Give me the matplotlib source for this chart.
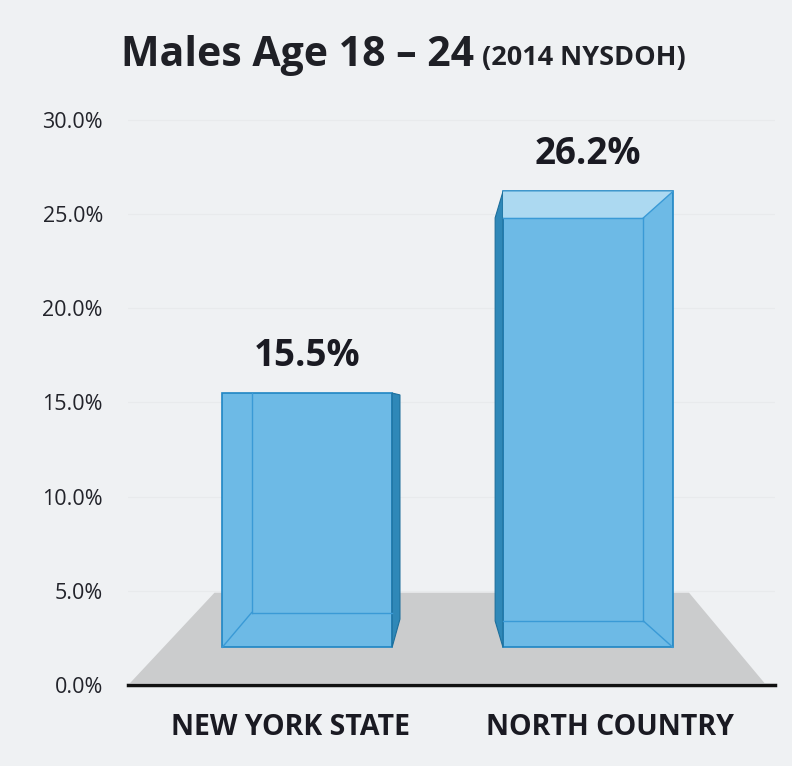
import matplotlib.pyplot as plt
from matplotlib.patches import Polygon
from matplotlib.transforms import ScaledTranslation

# datos
categorias = ['NEW YORK STATE', 'NORTH COUNTRY']
valores = [15.5, 26.2]
etiquetas = ['15.5%', '26.2%']
ticks_y = [0, 5, 10, 15, 20, 25, 30]

plt.rcParams['font.family'] = ['Open Sans', 'DejaVu Sans']

fig = plt.figure(figsize=(7.92, 7.66), dpi=100)
fig.patch.set_facecolor('#eff1f3')
ax = fig.add_axes([0.1616, 0.1057, 0.8169, 0.7624])
ax.set_facecolor('#eff1f3')
ax.set_xlim(-0.638, 1.666)
ax.set_ylim(0, 31)

# suelo gris (3D falso)
suelo = 2.0
ax.add_patch(Polygon([(-0.631, 0.1), (1.629, 0.1), (1.36, 4.9), (-0.33, 4.9)],
                     closed=True, facecolor='#cbcccd', edgecolor='none', zorder=1))

# lineas de fondo muy suaves
for t in ticks_y[1:]:
    ax.axhline(t, color='#e8eaec', lw=0.8, zorder=0)

x = [0, 1]
ancho = 0.605
barras = ax.bar(x, [v - suelo for v in valores], bottom=suelo, width=ancho,
                color='#6dbae6', edgecolor='#1f86c4', linewidth=1.2, zorder=3)

sw = 0.028
prof = 0.105
# cara lateral derecha NYS
x0, v0 = x[0], valores[0]
r = x0 + ancho / 2
ax.add_patch(Polygon([(r, v0), (r + sw, v0 - 0.1), (r + sw, suelo + 1.5), (r, suelo)],
                     closed=True, facecolor='#2f88b8', edgecolor='#1d6f9c', lw=0.8, zorder=4))
l = x0 - ancho / 2
ax.plot([l + prof, l + prof], [suelo + 1.85, v0], color='#3a9ad6', lw=1, zorder=4)
ax.plot([l + prof, r], [suelo + 1.85, suelo + 1.85], color='#3a9ad6', lw=1, zorder=4)
ax.plot([l, l + prof], [suelo, suelo + 1.85], color='#3a9ad6', lw=1, zorder=4)

# cara lateral izquierda NC
x1, v1 = x[1], valores[1]
l = x1 - ancho / 2
r = x1 + ancho / 2
ax.add_patch(Polygon([(l, v1), (l - sw, v1 - 1.4), (l - sw, suelo + 1.4), (l, suelo)],
                     closed=True, facecolor='#2f88b8', edgecolor='#1d6f9c', lw=0.8, zorder=4))
ax.add_patch(Polygon([(l, v1), (r, v1), (r - prof, v1 - 1.4), (l, v1 - 1.4)],
                     closed=True, facecolor='#acd9f1', edgecolor='none', zorder=4))
ax.plot([r - prof, r - prof], [suelo + 1.4, v1 - 1.4], color='#3a9ad6', lw=1, zorder=4)
ax.plot([l, r - prof], [v1 - 1.4, v1 - 1.4], color='#3a9ad6', lw=1, zorder=4)
ax.plot([l, r - prof], [suelo + 1.4, suelo + 1.4], color='#3a9ad6', lw=1, zorder=4)
ax.plot([r - prof, r], [v1 - 1.4, v1], color='#3a9ad6', lw=1, zorder=4)
ax.plot([r - prof, r], [suelo + 1.4, suelo], color='#3a9ad6', lw=1, zorder=4)

# etiquetas de valor
for xi, v, txt in zip(x, valores, etiquetas):
    ax.annotate(txt, (xi, v), xytext=(0, 13), textcoords='offset points',
                ha='center', va='bottom', fontsize=26.5, fontweight='bold',
                color='#1a1a22', zorder=5)

ax.set_yticks(ticks_y)
ax.set_yticklabels([f'{t:.1f}%' for t in ticks_y], fontsize=15.5, color='#22232a')
ax.set_xticks(x)
ax.set_xticklabels(categorias, fontsize=20.5, fontweight='bold', color='#1a1a22')
ax.tick_params(axis='both', length=0)
ax.tick_params(axis='x', pad=20)
ax.tick_params(axis='y', pad=18)

# desplazar etiquetas de categoria como en el original
for lab, dx in zip(ax.get_xticklabels(), [-17, 22]):
    lab.set_transform(lab.get_transform() + ScaledTranslation(dx / 100, 0, fig.dpi_scale_trans))

for s in ['top', 'right', 'left']:
    ax.spines[s].set_visible(False)
ax.spines['bottom'].set_linewidth(2.5)
ax.spines['bottom'].set_color('#111111')
ax.spines['bottom'].set_zorder(6)

fig.text(0.153, 0.927, 'Males Age 18 \u2013 24', fontsize=29.5, fontweight='bold',
         color='#1f2026', ha='left', va='center')
fig.text(0.609, 0.924, '(2014 NYSDOH)', fontsize=19.5, fontweight='bold',
         color='#1f2026', ha='left', va='center')

fig.savefig('out.png', dpi=100, facecolor=fig.get_facecolor())
